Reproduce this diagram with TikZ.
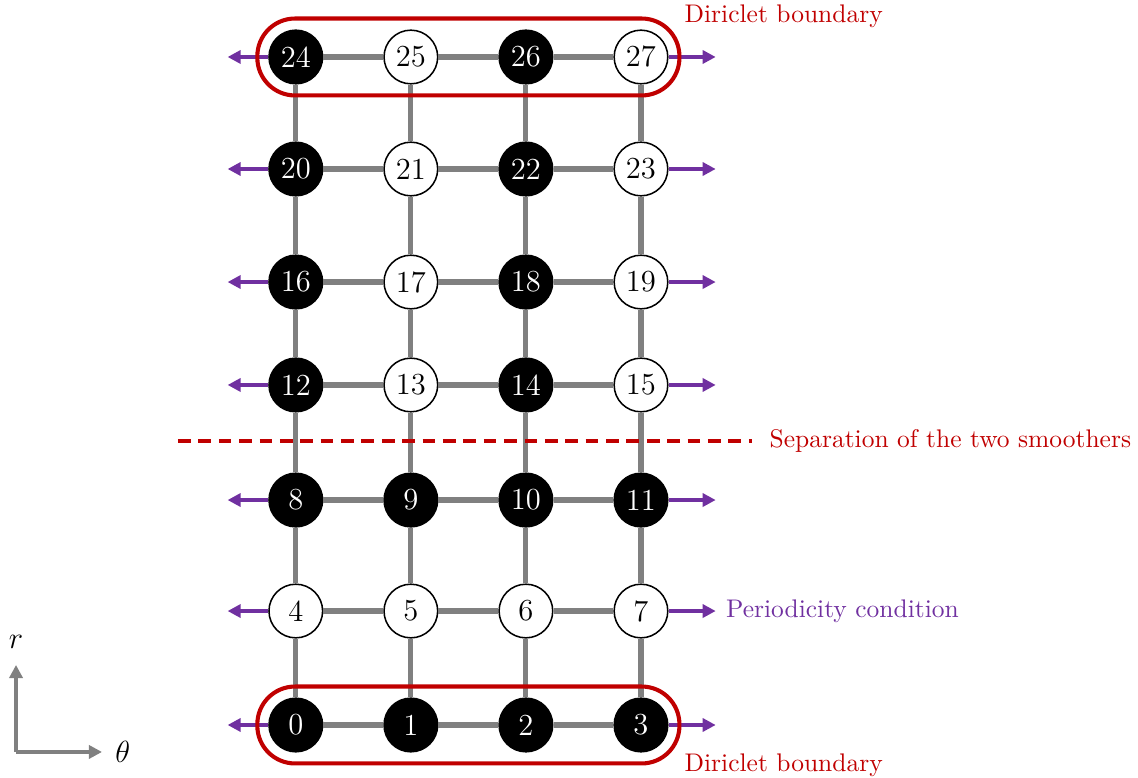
\documentclass[tikz,border=0pt]{standalone}
\usetikzlibrary{positioning,arrows.meta,fit}
\definecolor{DiriRed}{RGB}{192,0,0}
\definecolor{PeriodPurple}{RGB}{112,48,160}
\definecolor{EdgeGray}{RGB}{128,128,128}

\begin{document}
\begin{tikzpicture}[
  pt/.style={circle, draw, semithick, minimum size=0.74cm, inner sep=0pt, font=\large},
  blackpt/.style={pt, fill=black, text=white},
  whitept/.style={pt, fill=white},
  edge/.style={line width=2pt, EdgeGray},
  period/.style={-{Triangle[length=0.18cm,width=0.18cm]}, line width=1.6pt, PeriodPurple},
  boundary/.style={draw=DiriRed, line width=1.6pt, rounded corners=0.52cm, inner sep=0.15cm},
  sepline/.style={DiriRed, line width=1.5pt, dash pattern=on 5pt off 3pt},
  axis/.style={-{Triangle[length=0.18cm,width=0.18cm]}, line width=1.6pt, EdgeGray}]
  \useasboundingbox (0,0) rectangle (15.697,10.731);

  % grid points: rows 0 and 2 all black, upper rows black on even columns
  \foreach \y [count=\r from 0] in {0.731,2.303,3.834,5.421,6.841,8.400,9.945} {
    \foreach \c in {0,...,3} {
      \pgfmathtruncatemacro{\n}{4*\r+\c}
      \pgfmathtruncatemacro{\isblack}{(\r==0 || \r==2 || (\r>2 && mod(\c,2)==0)) ? 1 : 0}
      \ifnum\isblack=1 \def\kind{blackpt}\else\def\kind{whitept}\fi
      \node[\kind] (n\n) at ({4.08+1.587*\c},\y) {\n};
    }
  }

  % theta links
  \foreach \r in {0,...,6}
    \foreach \c in {0,1,2} {
      \pgfmathtruncatemacro{\a}{4*\r+\c}
      \pgfmathtruncatemacro{\b}{\a+1}
      \draw[edge] (n\a) -- (n\b);
    }
  % r links
  \foreach \a in {0,...,23} {
    \pgfmathtruncatemacro{\b}{\a+4}
    \draw[edge] (n\a) -- (n\b);
  }

  % periodic ends
  \foreach \r in {0,...,6} {
    \pgfmathtruncatemacro{\a}{4*\r}
    \pgfmathtruncatemacro{\b}{4*\r+3}
    \draw[period] (n\a.west) -- ++(-0.56,0);
    \draw[period] (n\b.east) -- ++(0.65,0) coordinate (pr\r);
  }
  \node[right=0.02cm of pr1, text=PeriodPurple] {Periodicity condition};

  % Dirichlet rows
  \node[boundary, fit=(n0)(n3)] (bot) {};
  \node[boundary, fit=(n24)(n27)] (top) {};
  \node[text=DiriRed, right=-0.08cm of top.north east] {Diriclet boundary};
  \node[text=DiriRed, right=-0.08cm of bot.south east] {Diriclet boundary};

  % smoother split
  \coordinate (sepL) at (2.455,4.648);
  \coordinate (sepR) at (10.372,4.648);
  \draw[sepline] (sepL) -- (sepR);
  \node[text=DiriRed, right=0.12cm of sepR] {Separation of the two smoothers};

  % axes
  \coordinate (O) at (0.221,0.359);
  \coordinate (rtip) at (0.221,1.559);
  \coordinate (ttip) at (1.407,0.359);
  \draw[axis] (O) -- (rtip);
  \draw[axis] (O) -- (ttip);
  \node[above=0.1cm of rtip, font=\large] {$r$};
  \node[right=0.06cm of ttip, font=\large] {$\theta$};
\end{tikzpicture}
\end{document}
